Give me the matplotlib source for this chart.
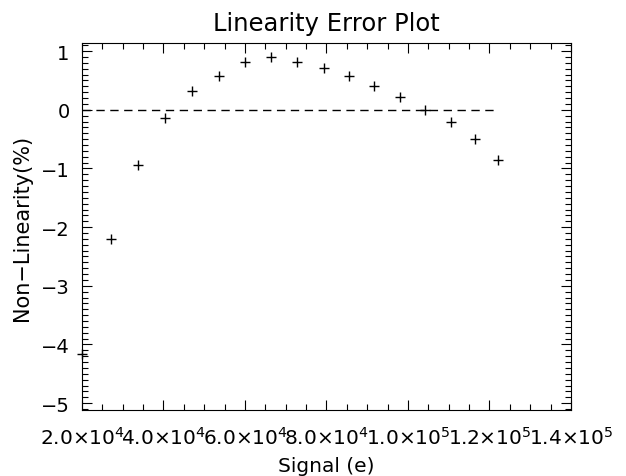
import matplotlib
matplotlib.use("Agg")
import matplotlib.pyplot as plt
from matplotlib.ticker import MultipleLocator, FuncFormatter

# Signal levels (e) and measured non-linearity (%)
signal = [2.0e4, 2.71e4, 3.37e4, 4.04e4, 4.71e4, 5.37e4, 6.0e4, 6.65e4, 7.28e4,
          7.95e4, 8.56e4, 9.17e4, 9.8e4, 1.042e5, 1.105e5, 1.164e5, 1.22e5]
nonlin = [-4.17, -2.21, -0.94, -0.14, 0.32, 0.58, 0.81, 0.90, 0.81,
          0.72, 0.58, 0.40, 0.21, 0.0, -0.21, -0.49, -0.86]

x_range = (2.0e4, 1.4e5)
y_range = (-5.12, 1.14)


def sci_label(v, pos):
    exp = len(str(int(v))) - 1
    mant = v / 10 ** exp
    return f"{mant:.1f}×10$^{{{exp}}}$"


fig = plt.figure(figsize=(6.26, 4.77), dpi=100)
ax = fig.add_axes([0.131, 0.138, 0.781, 0.770])

ax.plot(signal, nonlin, '+', color='black', markersize=7, markeredgewidth=1.0,
        clip_on=False)
ax.plot([signal[0], signal[-1]], [0, 0], '--', color='black', linewidth=1.0,
        dashes=(6, 4))

ax.set_xlim(*x_range)
ax.set_ylim(*y_range)
ax.xaxis.set_major_locator(MultipleLocator(2e4))
ax.xaxis.set_minor_locator(MultipleLocator(5e3))
ax.yaxis.set_major_locator(MultipleLocator(1))
ax.yaxis.set_minor_locator(MultipleLocator(0.1))
ax.xaxis.set_major_formatter(FuncFormatter(sci_label))

ax.tick_params(which='both', direction='in', top=True, right=True,
               width=0.8, colors='black')
ax.tick_params(which='major', length=7)
ax.tick_params(which='minor', length=4)
ax.tick_params(axis='x', which='major', labelsize=14.5, pad=11)
ax.tick_params(axis='y', which='major', labelsize=14, pad=9)
for s in ax.spines.values():
    s.set_linewidth(0.8)

ax.set_title("Linearity Error Plot", fontsize=17.5, pad=9)
ax.set_xlabel("Signal (e)", fontsize=14.5, labelpad=6)
ax.set_ylabel("Non−Linearity(%)", fontsize=15, labelpad=6)

fig.savefig("out.png", dpi=100)
